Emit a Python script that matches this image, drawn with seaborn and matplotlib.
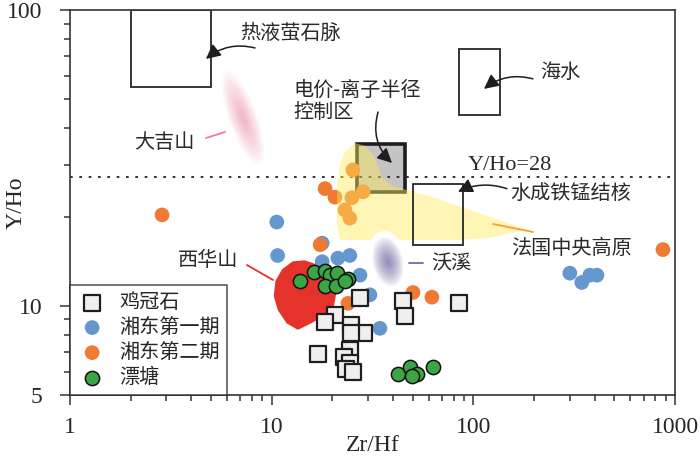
import numpy as np
import pandas as pd
import matplotlib
matplotlib.use('Agg')
import matplotlib.pyplot as plt
import seaborn as sns
from matplotlib.patches import Rectangle
from matplotlib.lines import Line2D
from matplotlib.ticker import FixedLocator, NullFormatter

# ---- data ----
# 鸡冠石 (squares)
jgs_x = [27.4, 44.8, 45.8, 84.9, 20.6, 18.4, 24.7, 28.7, 24.7, 17.0, 24.4, 22.8, 24.4, 23.3, 25.3]
jgs_y = [10.6, 10.4, 9.25, 10.2, 9.3, 8.8, 8.6, 8.1, 8.1, 6.9, 7.1, 6.7, 6.4, 6.1, 6.0]
# 湘东第一期 (blue)
xd1_x = [10.6, 10.7, 17.8, 17.8, 21.3, 24.4, 27.4, 30.7, 34.4, 301, 345, 378, 410]
xd1_y = [19.2, 14.8, 16.3, 14.1, 14.5, 14.8, 12.7, 10.9, 8.4, 12.9, 12.0, 12.7, 12.7]
# 湘东第二期 (orange)
xd2_x = [2.86, 18.4, 20.6, 25.3, 28.4, 25.0, 23.1, 24.4, 17.4, 50.2, 62.3, 23.9, 871]
xd2_y = [20.3, 24.9, 23.3, 28.8, 24.3, 23.2, 21.1, 19.8, 16.1, 11.1, 10.7, 10.2, 15.5]
# 漂塘 (green)
pt_x = [13.8, 16.2, 18.4, 19.5, 21.1, 23.9, 18.4, 20.8, 23.1, 42.3, 48.5, 52.5, 49.6, 63.1]
pt_y = [12.1, 13.0, 13.1, 12.7, 12.9, 12.3, 11.7, 11.7, 12.1, 5.9, 6.2, 5.9, 5.8, 6.2]

groups = ['鸡冠石', '湘东第一期', '湘东第二期', '漂塘']

# reference fields (x0, x1, y0, y1)
box_vein = (2, 5, 55, 100)          # 热液萤石脉
box_sea = (85, 135, 44, 74)         # 海水
box_nodule = (50, 89, 16, 25.8)     # 水成铁锰结核
box_charge = (26.5, 45.8, 24.3, 35.2)  # 电价-离子半径控制区
yho_line = 27.3

# 法国中央高原 field outline
fr_x = [23.1, 25.9, 29.3, 32.5, 35.2, 39.5, 60.9, 96.2, 184, 120.9, 85.8, 21.8, 21.1, 21.1, 21.8]
fr_y = [33.1, 35.5, 34.7, 31.6, 27.1, 25.4, 23.5, 21.1, 18.1, 17.0, 16.7, 16.7, 18.8, 25.6, 30.0]
# 西华山 field outline
xhs_x = [11.4, 12.8, 14.6, 17.0, 19.5, 20.6, 20.1, 18.0, 15.5, 13.5, 12.0, 10.9, 10.4, 10.6]
xhs_y = [13.2, 14.0, 14.1, 13.6, 12.4, 11.1, 10.1, 9.3, 8.8, 8.4, 8.8, 9.7, 10.8, 12.1]
# fuzzy fields: centre
djs_c = (7.21, 43.2)   # 大吉山
wx_c = (37.7, 14.1)    # 沃溪

df = pd.concat([
    pd.DataFrame({'Zr/Hf': jgs_x, 'Y/Ho': jgs_y, 'group': groups[0]}),
    pd.DataFrame({'Zr/Hf': xd1_x, 'Y/Ho': xd1_y, 'group': groups[1]}),
    pd.DataFrame({'Zr/Hf': xd2_x, 'Y/Ho': xd2_y, 'group': groups[2]}),
    pd.DataFrame({'Zr/Hf': pt_x, 'Y/Ho': pt_y, 'group': groups[3]}),
])

sns.set_theme(style='ticks')
plt.rcParams['font.family'] = ['Liberation Serif', 'Noto Sans CJK SC']
CJK = ['Noto Sans CJK SC', 'DejaVu Sans']
INK = '#262626'

W, H = 700, 457
fig = plt.figure(figsize=(7, 4.57), dpi=100)
ax = fig.add_axes([0.1, 0.1357, 0.8643, 0.8425])
ax.set_xscale('log')
ax.set_yscale('log')
ax.set_xlim(1, 1000)
ax.set_ylim(5, 100)

XDEC = W * 0.8643 / 3
YDEC = H * 0.8425 / np.log10(20)


def ellipse(c, w, h, ang, k=1.0):
    t = np.linspace(0, 2 * np.pi, 120)
    u = w / 2 * k * np.cos(t)
    v = h / 2 * k * np.sin(t)
    a = np.radians(ang)
    dx = u * np.cos(a) - v * np.sin(a)
    dy = u * np.sin(a) + v * np.cos(a)
    return c[0] * 10 ** (dx / XDEC), c[1] * 10 ** (dy / YDEC)


def soft(c, w, h, ang, color, n, alpha, z):
    for k in np.linspace(1, 0.08, n):
        ex, ey = ellipse(c, w, h, ang, k)
        ax.fill(ex, ey, color=color, alpha=alpha, lw=0, zorder=z)


def box(b, **kw):
    ax.add_patch(Rectangle((b[0], b[2]), b[1] - b[0], b[3] - b[2], **kw))


# fields
box(box_vein, fill=False, ec=INK, lw=1.3, zorder=2)
box(box_sea, fill=False, ec=INK, lw=1.3, zorder=2)
box(box_nodule, fill=False, ec=INK, lw=1.3, zorder=6)
box(box_charge, fc='#c4c4c4', ec='#1e1e1e', lw=2.6, zorder=1.5)
ax.fill(xhs_x, xhs_y, color='#e5322b', lw=2, ec='#e5322b', joinstyle='round', zorder=2)
soft(djs_c, 28, 100, 20, '#e65a7c', 14, 0.035, 1)

# points
sns.scatterplot(data=df[df.group == groups[1]], x='Zr/Hf', y='Y/Ho', color='#6597cf',
                s=112, edgecolor='none', label=groups[1], ax=ax, zorder=3)
sns.scatterplot(data=df[df.group == groups[2]], x='Zr/Hf', y='Y/Ho', color='#ef7a32',
                s=112, edgecolor='none', label=groups[2], ax=ax, zorder=3.5)
sns.scatterplot(data=df[df.group == groups[0]], x='Zr/Hf', y='Y/Ho', color='#f1eeee',
                marker='s', s=135, edgecolor='#1e1e1e', linewidth=1.6, label=groups[0], ax=ax, zorder=7)
sns.scatterplot(data=df[df.group == groups[3]], x='Zr/Hf', y='Y/Ho', color='#3ca545',
                s=105, edgecolor='#111111', linewidth=1.1, label=groups[3], ax=ax, zorder=8)

# 法国中央高原 overlay and 沃溪
ax.fill(fr_x, fr_y, color='#ffe95a', alpha=0.45, lw=0, zorder=4)
hx, hy = ellipse(wx_c, 40, 62, 12)
ax.fill(hx, hy, color='white', lw=0, zorder=4.5)
soft(wx_c, 30, 50, 12, '#50468f', 14, 0.06, 5)

ax.axhline(yho_line, color='#333333', lw=1.4, ls=(0, (1.4, 3.4)), zorder=2)

# arrows
arrow = dict(arrowstyle='-|>', color='#1e1e1e', lw=1.1, mutation_scale=22,
             shrinkA=0, shrinkB=0)
ax.annotate('', xy=(4.72, 68.3), xytext=(8.27, 74.4),
            arrowprops=dict(arrow, connectionstyle='arc3,rad=0.25'), zorder=9)
ax.annotate('', xy=(112.9, 54.1), xytext=(197.5, 58.5),
            arrowprops=dict(arrow, connectionstyle='arc3,rad=0.25'), zorder=9)
ax.annotate('', xy=(39.5, 30.4), xytext=(33.7, 45.2),
            arrowprops=dict(arrow, connectionstyle='arc3,rad=0.3'), zorder=9)
ax.annotate('', xy=(83.9, 24.3), xytext=(146.7, 24.9),
            arrowprops=dict(arrow, connectionstyle='arc3,rad=0.2'), zorder=9)


def ftext(px, py, s, size=14.5, **kw):
    fig.text(px / W, 1 - py / H, s, ha='left', va='center', family=CJK,
             fontsize=size, color='#2a2a2a', **kw)


def fline(p0, p1, color):
    fig.add_artist(Line2D([p0[0] / W, p1[0] / W], [1 - p0[1] / H, 1 - p1[1] / H],
                          transform=fig.transFigure, color=color, lw=1.3))


ftext(240, 33, '热液萤石脉')
ftext(540, 72, '海水')
ftext(293, 90, '电价-离子半径')
ftext(293, 113, '控制区')
ftext(510, 193, '水成铁锰结核')
ftext(511, 248, '法国中央高原')
ftext(134, 143, '大吉山')
ftext(178, 260, '西华山')
ftext(431, 264, '沃溪')
fig.text(468 / W, 1 - 165 / H, 'Y/Ho=28', ha='left', va='center',
         family='Liberation Serif', fontsize=16, color='#2a2a2a')

fline((206, 138), (225, 132), '#f07a95')
fline((247, 265), (273, 280), '#e5322b')
fline((409, 263), (423, 263), '#6f68b0')
fline((493, 224), (533, 232), '#f5a030')

# axes styling
ax.xaxis.set_major_locator(FixedLocator([1, 10, 100, 1000]))
ax.set_xticklabels(['1', '10', '100', '1000'])
ax.xaxis.set_minor_locator(FixedLocator([m * d for d in (1, 10, 100) for m in range(2, 10)]))
ax.xaxis.set_minor_formatter(NullFormatter())
ax.yaxis.set_major_locator(FixedLocator([5, 10, 100]))
ax.set_yticklabels(['5', '10', '100'])
ax.yaxis.set_minor_locator(FixedLocator([6, 7, 8, 9] + [m * 10 for m in range(2, 10)]))
ax.yaxis.set_minor_formatter(NullFormatter())
ax.tick_params(which='major', length=7, width=1.1, color='#333333', labelsize=17,
               direction='out')
ax.tick_params(axis='x', which='major', pad=9)
ax.tick_params(axis='y', which='major', pad=13)
ax.tick_params(which='minor', length=4.5, width=1.1, color='#333333', direction='out')
for sp in ax.spines.values():
    sp.set_color('#333333')
    sp.set_linewidth(1.2)
ax.set_xlabel('Zr/Hf', fontsize=17)
ax.set_ylabel('Y/Ho', fontsize=17)
ax.xaxis.set_label_coords(0.5, -0.105)
ax.yaxis.set_label_coords(-0.072, 0.5)

handles, labels = ax.get_legend_handles_labels()
order = [labels.index(g) for g in groups]
leg = ax.legend([handles[i] for i in order], groups, loc='lower left',
                bbox_to_anchor=(0, 0), borderaxespad=0, frameon=True, fancybox=False,
                edgecolor='#222222', prop={'family': CJK, 'size': 14.5},
                labelspacing=0.2, handletextpad=0.6, borderpad=0.35, handlelength=1.5)
leg.get_frame().set_linewidth(1.1)
leg.set_zorder(10)

fig.savefig('out.png', dpi=100)
